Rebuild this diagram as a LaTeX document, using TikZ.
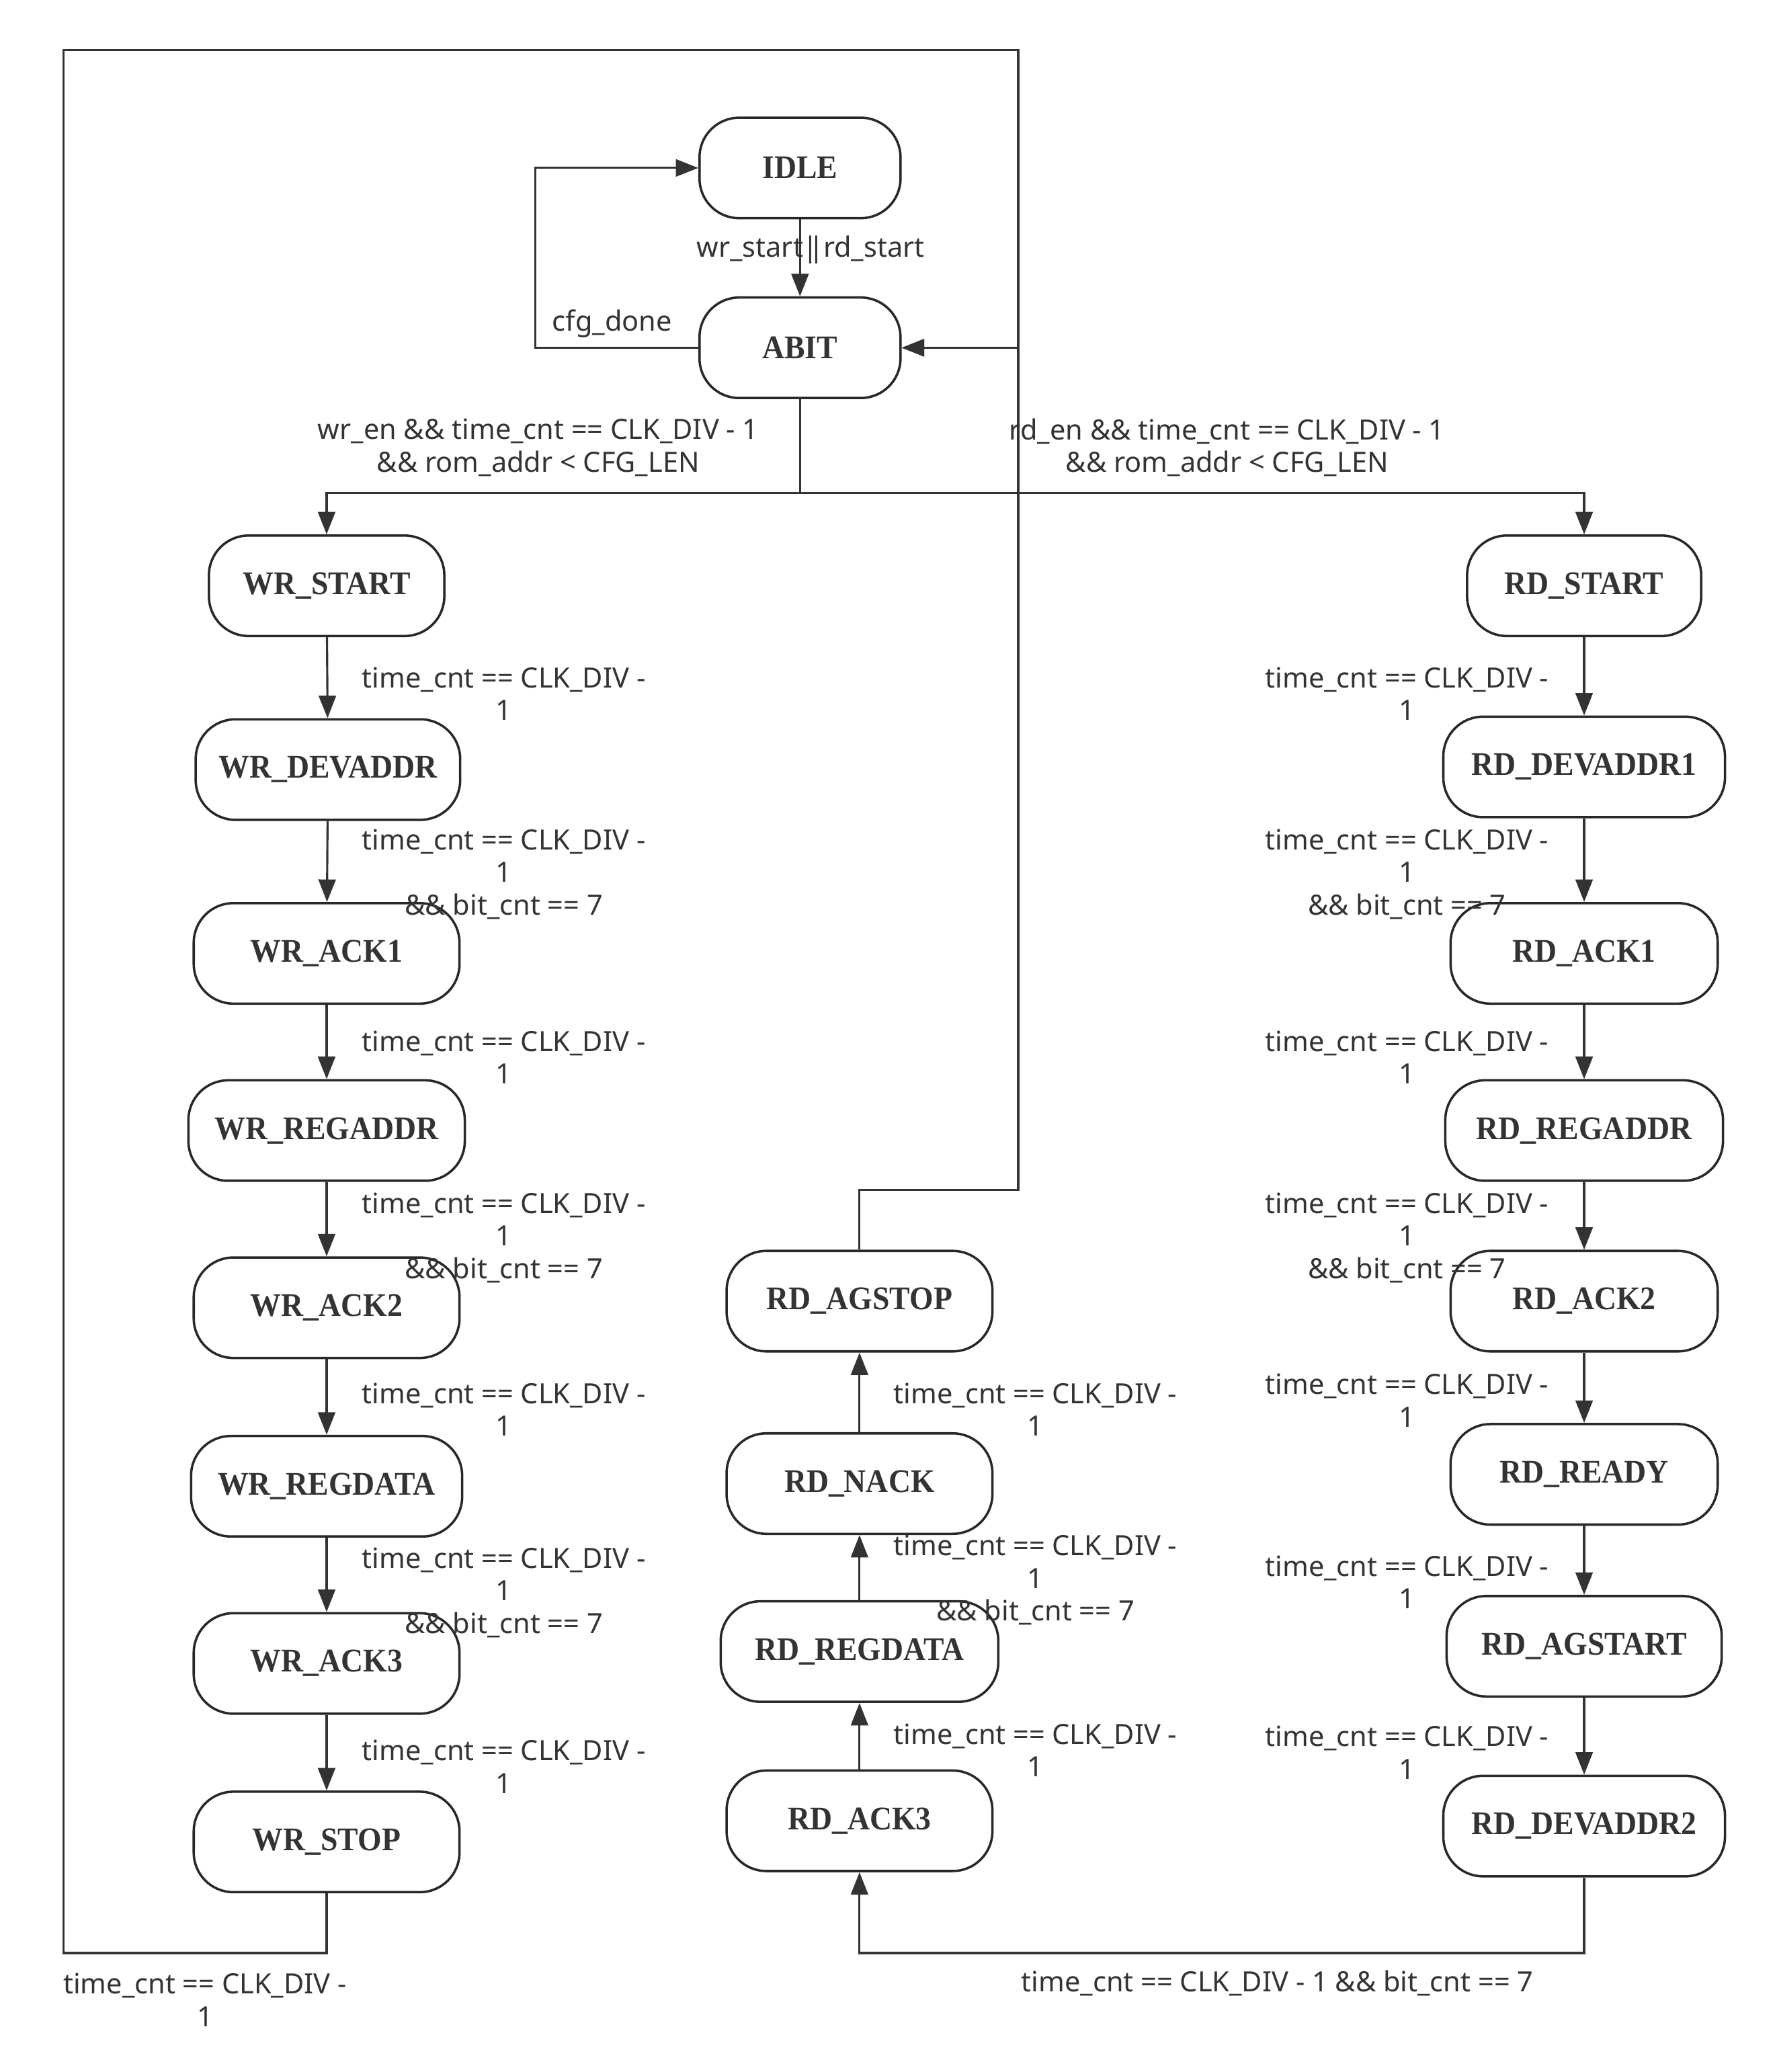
\documentclass[tikz,border=0pt]{standalone}
\usepackage{fontspec}
\usetikzlibrary{arrows.meta}
\newfontfamily\labfont{Noto Sans}
\newfontfamily\stfont[FakeStretch=0.93]{Liberation Serif}
\definecolor{ink}{HTML}{333333}
\definecolor{bord}{HTML}{24292E}
\tikzset{
  st/.style={draw=bord, line width=1.8pt, rounded corners=30pt, minimum height=76pt,
    inner sep=0pt, text=ink, font=\stfont\bfseries\fontsize{25}{29}\selectfont},
  edge/.style={draw=ink, line width=1.6pt, -{Triangle[length=17pt,width=13pt]}},
  plain/.style={draw=ink, line width=1.6pt},
  lab/.style={inner sep=0pt, align=center, text=ink, font=\labfont\fontsize{21.1}{24.6}\selectfont}
}
\begin{document}
\begin{tikzpicture}[x=1pt,y=-1pt]
\useasboundingbox (0,0) rectangle (1342,1567);
% states
\node[st, minimum width=152pt] (idle) at (605,127) {IDLE};
\node[st, minimum width=152pt] (abit) at (605,263) {ABIT};
\node[st, minimum width=178pt] (wrstart) at (247,443) {WR\_START};
\node[st, minimum width=200pt] (wrdevaddr) at (248,582) {WR\_DEVADDR};
\node[st, minimum width=201pt] (wrack1) at (247,721) {WR\_ACK1};
\node[st, minimum width=209pt] (wrregaddr) at (247,855) {WR\_REGADDR};
\node[st, minimum width=201pt] (wrack2) at (247,989) {WR\_ACK2};
\node[st, minimum width=205pt] (wrregdata) at (247,1124) {WR\_REGDATA};
\node[st, minimum width=201pt] (wrack3) at (247,1258) {WR\_ACK3};
\node[st, minimum width=201pt] (wrstop) at (247,1393) {WR\_STOP};
\node[st, minimum width=177pt] (rdstart) at (1198,443) {RD\_START};
\node[st, minimum width=213pt] (rddevaddr1) at (1198,580) {RD\_DEVADDR1};
\node[st, minimum width=202pt] (rdack1) at (1198,721) {RD\_ACK1};
\node[st, minimum width=210pt] (rdregaddr) at (1198,855) {RD\_REGADDR};
\node[st, minimum width=202pt] (rdack2) at (1198,984) {RD\_ACK2};
\node[st, minimum width=202pt] (rdready) at (1198,1115) {RD\_READY};
\node[st, minimum width=208pt] (rdagstart) at (1198,1245) {RD\_AGSTART};
\node[st, minimum width=213pt] (rddevaddr2) at (1198,1381) {RD\_DEVADDR2};
\node[st, minimum width=201pt] (rdagstop) at (650,984) {RD\_AGSTOP};
\node[st, minimum width=201pt] (rdnack) at (650,1122) {RD\_NACK};
\node[st, minimum width=210pt] (rdregdata) at (650,1249) {RD\_REGDATA};
\node[st, minimum width=201pt] (rdack3) at (650,1377) {RD\_ACK3};
% routing points
\coordinate (cfgc) at (405,263);
\coordinate (split) at (605,373);
\coordinate (lb) at (48,1477);
\coordinate (lt) at (48,38);
\coordinate (rt) at (770,38);
\coordinate (ra) at (770,263);
\coordinate (m1) at (770,900);
\coordinate (b1) at (1198,1477);
\coordinate (b2) at (650,1477);
% connectors
\draw[edge] (idle) -- (abit);
\draw[edge] (abit.west) -- (cfgc) |- (idle.west);
\draw[plain] (abit.south) -- (split);
\draw[edge] (split) -| (wrstart.north);
\draw[edge] (split) -| (rdstart.north);
\draw[edge] (wrstart) -- (wrdevaddr);
\draw[edge] (wrdevaddr) -- (wrack1);
\draw[edge] (wrack1) -- (wrregaddr);
\draw[edge] (wrregaddr) -- (wrack2);
\draw[edge] (wrack2) -- (wrregdata);
\draw[edge] (wrregdata) -- (wrack3);
\draw[edge] (wrack3) -- (wrstop);
\draw[edge] (wrstop.south) |- (lb) -- (lt) -- (rt) -- (ra) -- (abit.east);
\draw[edge] (rdstart) -- (rddevaddr1);
\draw[edge] (rddevaddr1) -- (rdack1);
\draw[edge] (rdack1) -- (rdregaddr);
\draw[edge] (rdregaddr) -- (rdack2);
\draw[edge] (rdack2) -- (rdready);
\draw[edge] (rdready) -- (rdagstart);
\draw[edge] (rdagstart) -- (rddevaddr2);
\draw[edge] (rddevaddr2.south) -- (b1) -- (b2) -- (rdack3.south);
\draw[edge] (rdack3) -- (rdregdata);
\draw[edge] (rdregdata) -- (rdnack);
\draw[edge] (rdnack) -- (rdagstop);
\draw[edge] (rdagstop.north) |- (m1) -- (ra) -- (abit.east);
% labels
\node[lab] (t0) at (613,189) {wr\_start\kern-6pt\ |\kern-7pt|\kern-6pt\ rd\_start};
\node[lab] (t1) at (463,245) {cfg\_done};
\node[lab] (t2) at (407,338.5) {wr\_en \&\& time\_cnt == CLK\_DIV - 1\\\&\& rom\_addr < CFG\_LEN};
\node[lab] (t3) at (928,338.5) {rd\_en \&\& time\_cnt == CLK\_DIV - 1\\\&\& rom\_addr < CFG\_LEN};
\node[lab] (l1) at (381,524.5) {time\_cnt == CLK\_DIV -\\1};
\node[lab] (l2) at (381,661) {time\_cnt == CLK\_DIV -\\1\\\&\& bit\_cnt == 7};
\node[lab] (l3) at (381,799.5) {time\_cnt == CLK\_DIV -\\1};
\node[lab] (l4) at (381,936) {time\_cnt == CLK\_DIV -\\1\\\&\& bit\_cnt == 7};
\node[lab] (l5) at (381,1066) {time\_cnt == CLK\_DIV -\\1};
\node[lab] (l6) at (381,1204.5) {time\_cnt == CLK\_DIV -\\1\\\&\& bit\_cnt == 7};
\node[lab] (l7) at (381,1336) {time\_cnt == CLK\_DIV -\\1};
\node[lab] (r1) at (1064,524.5) {time\_cnt == CLK\_DIV -\\1};
\node[lab] (r2) at (1064,661) {time\_cnt == CLK\_DIV -\\1\\\&\& bit\_cnt == 7};
\node[lab] (r3) at (1064,799.5) {time\_cnt == CLK\_DIV -\\1};
\node[lab] (r4) at (1064,936) {time\_cnt == CLK\_DIV -\\1\\\&\& bit\_cnt == 7};
\node[lab] (r5) at (1064,1059) {time\_cnt == CLK\_DIV -\\1};
\node[lab] (r6) at (1064,1196.5) {time\_cnt == CLK\_DIV -\\1};
\node[lab] (r7) at (1064,1325.5) {time\_cnt == CLK\_DIV -\\1};
\node[lab] (c1) at (783,1066) {time\_cnt == CLK\_DIV -\\1};
\node[lab] (c2) at (783,1195) {time\_cnt == CLK\_DIV -\\1\\\&\& bit\_cnt == 7};
\node[lab] (c3) at (783,1323.5) {time\_cnt == CLK\_DIV -\\1};
\node[lab] (bl) at (155,1512.5) {time\_cnt == CLK\_DIV -\\1};
\node[lab] (br) at (966,1500) {time\_cnt == CLK\_DIV - 1 \&\& bit\_cnt == 7};
\end{tikzpicture}
\end{document}
